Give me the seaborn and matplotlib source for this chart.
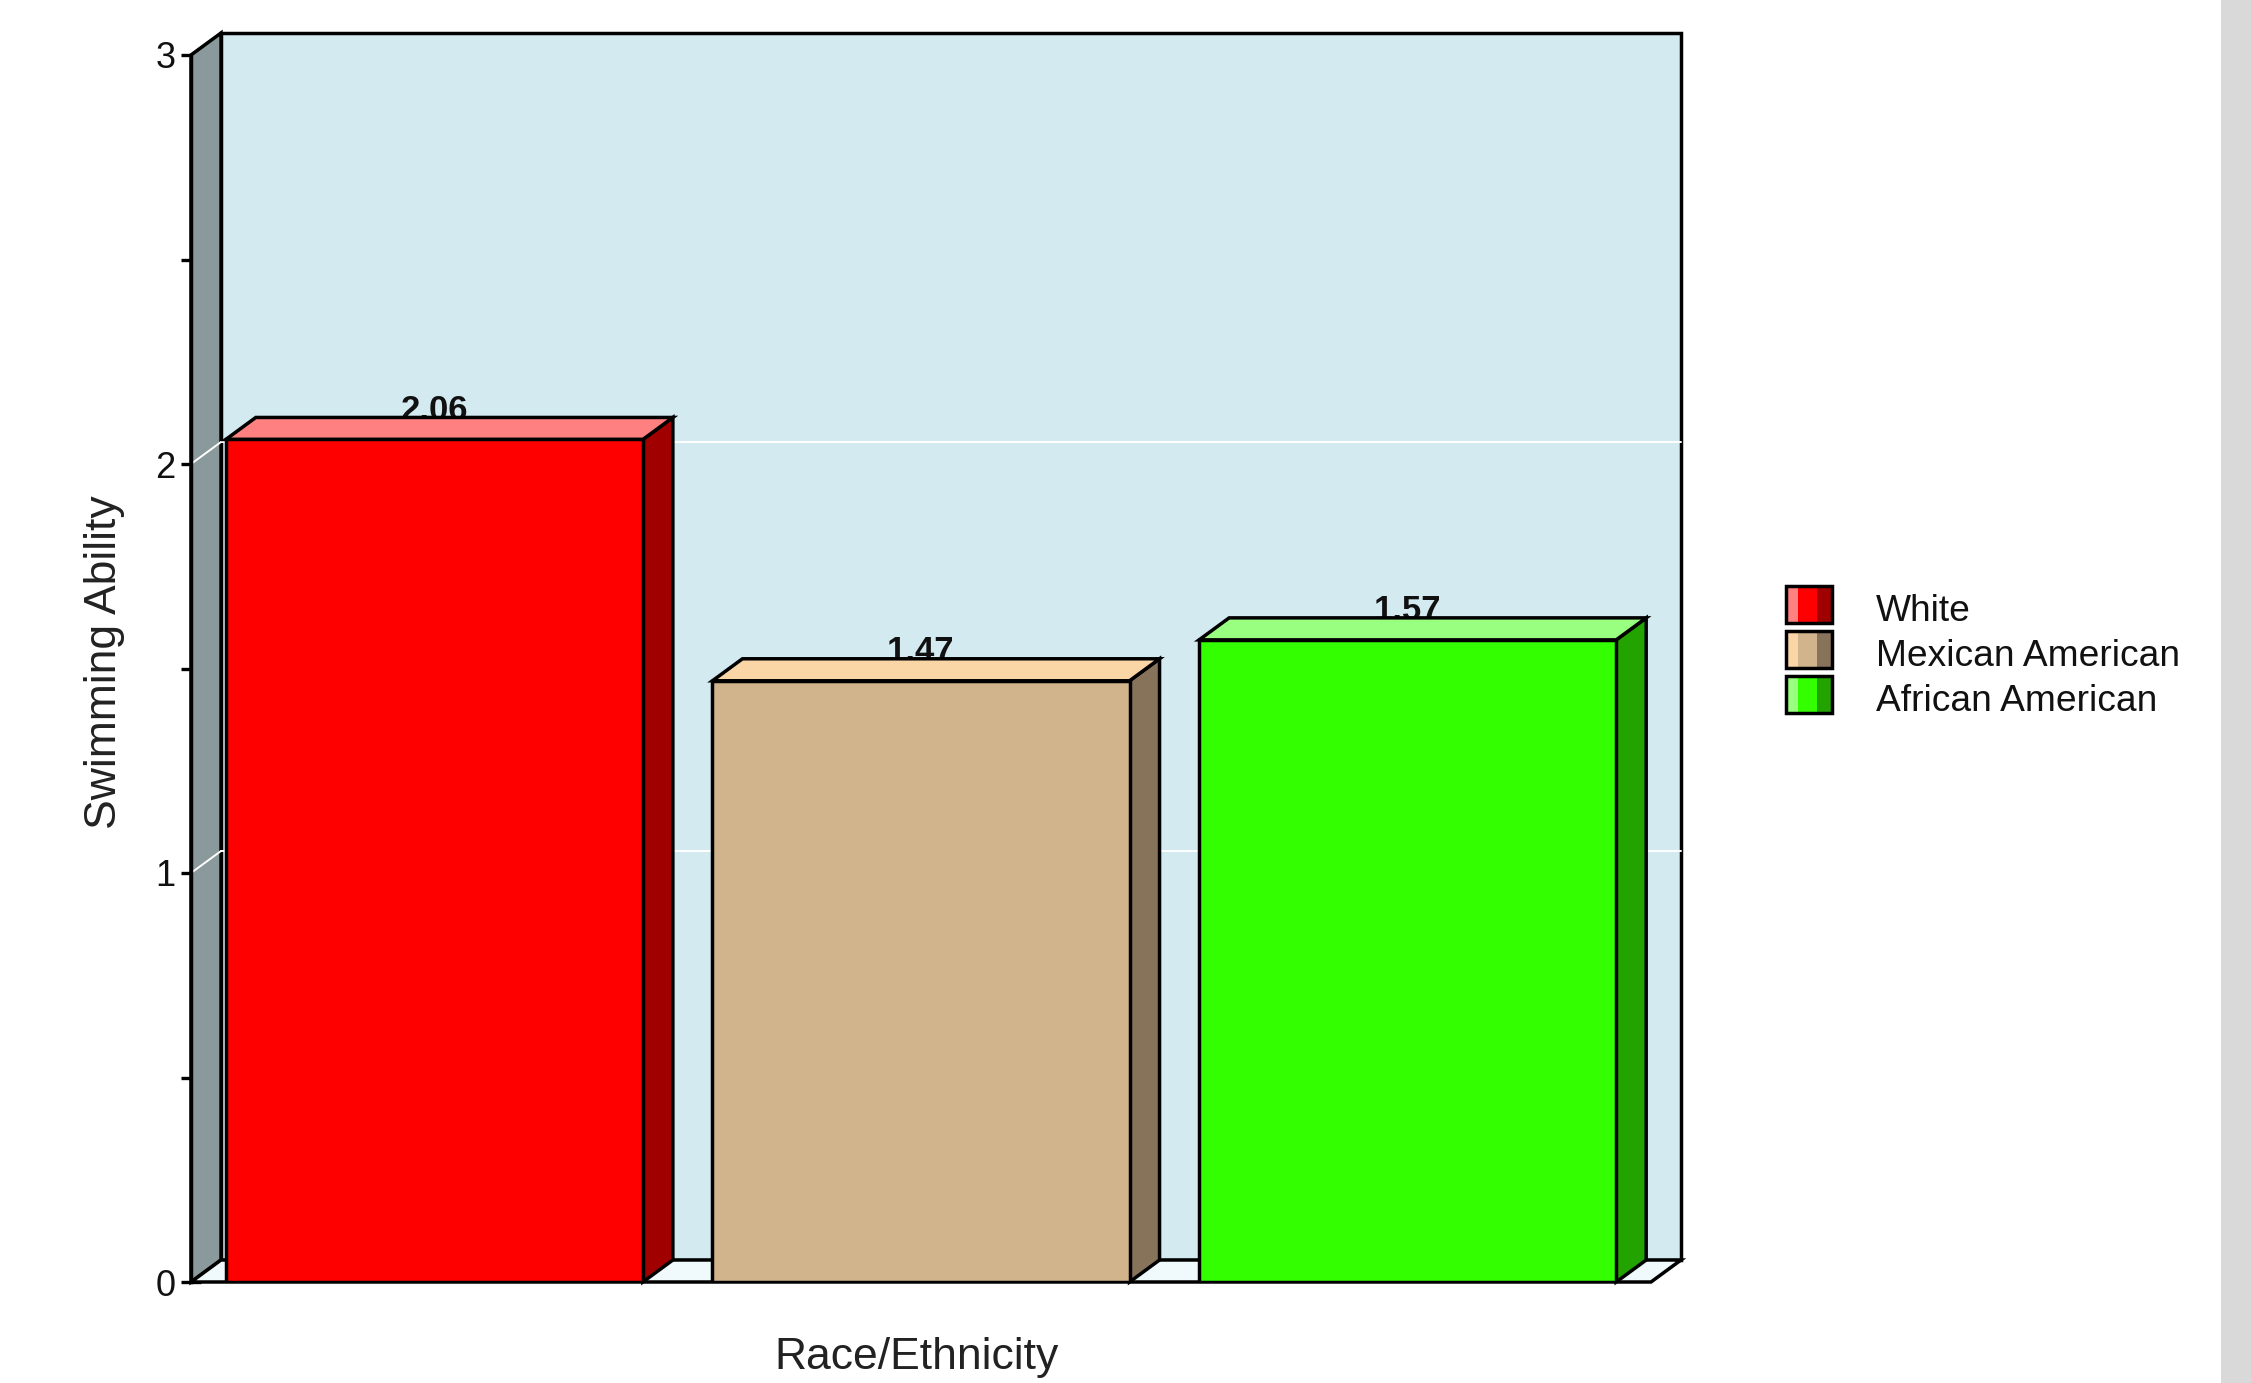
import matplotlib
matplotlib.use("Agg")
import matplotlib.pyplot as plt
from matplotlib.patches import Polygon, Rectangle
import seaborn as sns

# Chart data
categories = ["White", "Mexican American", "African American"]
values = [2.06, 1.47, 1.57]
value_labels = ["2.06", "1.47", "1.57"]
front_colors = ["#FF0000", "#D2B48C", "#33FF00"]
top_colors = ["#FF8080", "#FAD5A5", "#99FF80"]
side_colors = ["#A00000", "#87735A", "#22A300"]
y_ticks = [0, 1, 2, 3]
y_minor_ticks = [0.5, 1.5, 2.5]
grid_values = [1, 2]

sns.set_style("white")
plt.rcParams["font.family"] = ["Liberation Sans", "DejaVu Sans"]

W, H = 2251, 1383
fig = plt.figure(figsize=(W / 100, H / 100), dpi=100)
fig.patch.set_facecolor("white")


def fx(x):
    return x / W


def fy(y):
    return 1 - y / H


# front plane of the 3-D box, in pixels
left_px, right_px, top_px, bottom_px = 191, 1651, 55, 1282
ax = fig.add_axes([fx(left_px), fy(bottom_px),
                   (right_px - left_px) / W, (bottom_px - top_px) / H])
ax.set_facecolor("none")

xmin, xmax, ymin, ymax = -0.5, 2.5, 0.0, 3.0
# depth offset of the back plane (30 px right, 22 px up)
ddx = 30 / ((right_px - left_px) / (xmax - xmin))
ddy = 22 / ((bottom_px - top_px) / (ymax - ymin))

edge_lw = 2.5

# walls and floor
back_wall = Polygon([(xmin + ddx, ymin + ddy), (xmax + ddx, ymin + ddy),
                     (xmax + ddx, ymax + ddy), (xmin + ddx, ymax + ddy)],
                    closed=True, facecolor="#D2EAF0", edgecolor="black",
                    lw=edge_lw, zorder=0.5, clip_on=False)
left_wall = Polygon([(xmin, ymin), (xmin, ymax), (xmin + ddx, ymax + ddy),
                     (xmin + ddx, ymin + ddy)],
                    closed=True, facecolor="#8A999B", edgecolor="black",
                    lw=edge_lw, zorder=0.6, clip_on=False)
floor = Polygon([(xmin, ymin), (xmax, ymin), (xmax + ddx, ymin + ddy),
                 (xmin + ddx, ymin + ddy)],
                closed=True, facecolor="#F0FAFC", edgecolor="black",
                lw=edge_lw, zorder=0.7, clip_on=False)
for p in (back_wall, left_wall, floor):
    ax.add_patch(p)

# grid lines on the back and left walls
for g in grid_values:
    ax.plot([xmin + ddx, xmax + ddx], [g + ddy, g + ddy], color="white",
            lw=1.4, zorder=0.8, clip_on=False)
    ax.plot([xmin, xmin + ddx], [g, g + ddy], color="white",
            lw=1.4, zorder=0.8, clip_on=False)

# front faces of the bars
sns.barplot(x=categories, y=values, hue=categories, palette=front_colors,
            saturation=1, width=0.857, edgecolor="black", linewidth=edge_lw,
            legend=False, ax=ax)

bars = [p for p in ax.patches if isinstance(p, Rectangle)]
for i, bar in enumerate(bars):
    bar.set_zorder(5)
    x0 = bar.get_x()
    x1 = x0 + bar.get_width()
    h = bar.get_height()
    side = Polygon([(x1, 0), (x1 + ddx, ddy), (x1 + ddx, h + ddy), (x1, h)],
                   closed=True, facecolor=side_colors[i], edgecolor="black",
                   lw=edge_lw, zorder=4, clip_on=False)
    top = Polygon([(x0, h), (x1, h), (x1 + ddx, h + ddy), (x0 + ddx, h + ddy)],
                  closed=True, facecolor=top_colors[i], edgecolor="black",
                  lw=edge_lw, zorder=4, clip_on=False)
    ax.add_patch(side)
    ax.add_patch(top)
    ax.text(x0 + bar.get_width() / 2, h + ddy * 0.9, value_labels[i],
            ha="center", va="baseline", fontsize=25, fontweight="bold",
            color="#111111", zorder=3, clip_on=False)

ax.set_xlim(xmin, xmax)
ax.set_ylim(ymin, ymax)
ax.set_xlabel("")
ax.set_ylabel("")
for s in ("top", "right", "bottom"):
    ax.spines[s].set_visible(False)
ax.spines["left"].set_color("black")
ax.spines["left"].set_linewidth(edge_lw)
ax.spines["left"].set_zorder(1)
ax.tick_params(axis="x", bottom=False, labelbottom=False)
ax.set_yticks(y_ticks)
ax.set_yticklabels([str(t) for t in y_ticks])
ax.set_yticks(y_minor_ticks, minor=True)
ax.tick_params(axis="y", which="both", direction="inout", length=14,
               width=2.4, color="black", left=True)
ax.tick_params(axis="y", which="major", labelsize=26, pad=4,
               labelcolor="#111111")

# axis titles
fig.text(fx(105), fy(662), "Swimming Ability", rotation=90, ha="center",
         va="center", fontsize=32, color="#222222")
fig.text(fx(917), fy(1357), "Race/Ethnicity", ha="center", va="center",
         fontsize=32, color="#222222")

# legend with three-tone swatches
sw_x, sw_w, sw_h = 1786, 46, 37
row_tops = [586, 631, 676]
bands = [0.26, 0.41, 0.33]
for i, name in enumerate(categories):
    y0 = row_tops[i]
    cx = sw_x
    for frac, col in zip(bands, [top_colors[i], front_colors[i], side_colors[i]]):
        fig.add_artist(Rectangle((fx(cx), fy(y0 + sw_h)), frac * sw_w / W,
                                 sw_h / H, transform=fig.transFigure,
                                 facecolor=col, edgecolor="none"))
        cx += frac * sw_w
    fig.add_artist(Rectangle((fx(sw_x), fy(y0 + sw_h)), sw_w / W, sw_h / H,
                             transform=fig.transFigure, facecolor="none",
                             edgecolor="black", lw=edge_lw))
    fig.text(fx(1876), fy(y0 + sw_h - 2), name, ha="left", va="baseline",
             fontsize=26.7, color="#111111")

# grey strip along the right edge
fig.add_artist(Rectangle((fx(2221), 0), 30 / W, 1, transform=fig.transFigure,
                         facecolor="#D9D9D9", edgecolor="none"))

fig.savefig("out.png", dpi=100)
